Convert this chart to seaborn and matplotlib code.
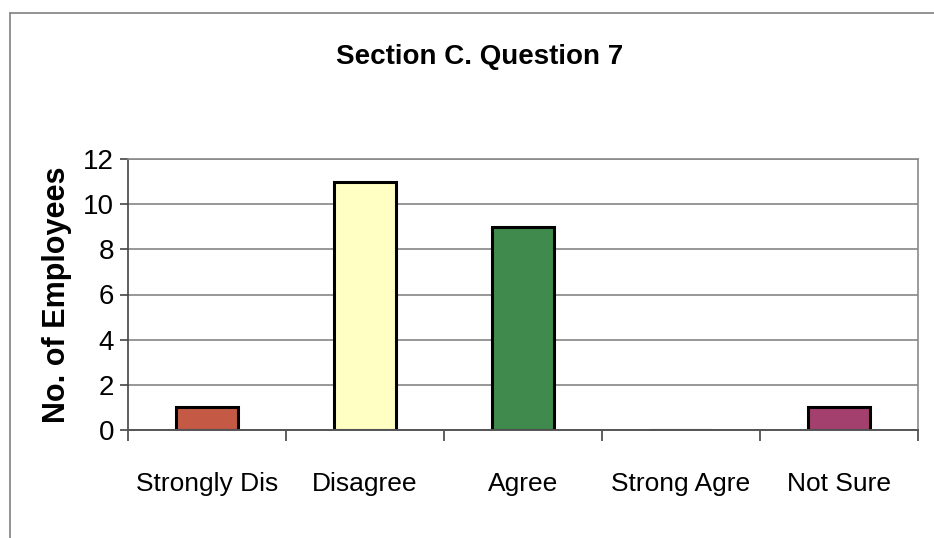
import matplotlib
matplotlib.use("Agg")
import matplotlib.pyplot as plt
from matplotlib.lines import Line2D
import seaborn as sns
import pandas as pd

categories = ["Strongly Dis", "Disagree", "Agree", "Strong Agre", "Not Sure"]
employees = [1, 11, 9, 0, 1]
bar_colors = ["#C45A45", "#FFFFC4", "#3F8A4C", "#4F81BD", "#A4406E"]
y_ticks = [0, 2, 4, 6, 8, 10, 12]

df = pd.DataFrame({"response": categories, "count": employees})

sns.set_theme(style="white")
fonts = ["Liberation Sans", "DejaVu Sans"]
plt.rcParams["font.family"] = fonts
plt.rcParams["text.color"] = "black"
plt.rcParams["xtick.color"] = "black"
plt.rcParams["ytick.color"] = "black"
plt.rcParams["axes.labelcolor"] = "black"

W, H = 934, 538
fig = plt.figure(figsize=(W / 100, H / 100), dpi=100)
ax = fig.add_axes([128 / W, 1 - 430 / H, (918 - 128) / W, (430 - 159) / H])

sns.barplot(data=df, x="response", y="count", hue="response",
            palette=bar_colors, width=0.39, edgecolor="black",
            linewidth=2.2, legend=False, ax=ax, saturation=1)

ax.set_xlim(-0.5, len(categories) - 0.5)
ax.set_ylim(0, 12)
ax.set_yticks(y_ticks)
ax.yaxis.grid(True, color="#7a7a7a", linewidth=1.1)
ax.set_axisbelow(True)

# category boundary ticks below the x axis
ax.set_xticks([i - 0.5 for i in range(len(categories) + 1)], minor=True)
ax.tick_params(axis="x", which="minor", length=8, width=1.2, color="#444444",
               direction="out", bottom=True)
ax.tick_params(axis="x", which="major", length=0, pad=30, labelsize=19,
               labelcolor="black")
ax.tick_params(axis="y", which="major", length=6, width=1.2, color="#444444",
               direction="out", left=True, labelsize=20, pad=4,
               labelcolor="black")

for side in ["top", "right"]:
    ax.spines[side].set_color("#8a8a8a")
    ax.spines[side].set_linewidth(1.2)
ax.spines["left"].set_color("#444444")
ax.spines["bottom"].set_color("#555555")
ax.spines["left"].set_linewidth(1.2)
ax.spines["bottom"].set_linewidth(1.4)

ax.set_xlabel("")
ax.set_ylabel("No. of Employees", fontsize=22, fontweight="bold",
              color="black", labelpad=8)

fig.text(480 / W, 1 - 57 / H, "Section C. Question 7", ha="center", va="center",
         fontsize=20, fontweight="bold", color="black")

# outer chart frame (top and left edges)
fig.add_artist(Line2D([10 / W, 1.0], [1 - 13 / H, 1 - 13 / H],
                      transform=fig.transFigure, color="#808080", linewidth=1.2))
fig.add_artist(Line2D([10 / W, 10 / W], [0, 1 - 13 / H],
                      transform=fig.transFigure, color="#808080", linewidth=1.2))

fig.savefig("out.png", dpi=100)
